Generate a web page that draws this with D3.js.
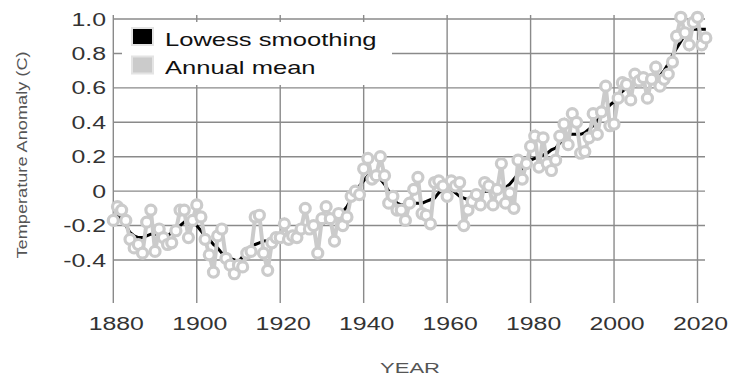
<!DOCTYPE html>
<html lang="en">
<head>
<meta charset="UTF-8">
<title>Temperature Anomaly</title>
<script src="https://d3js.org/d3.v7.min.js"></script>
<style>
  body { margin: 0; background: #fff; }
  text { font-family: "Liberation Sans", Arial, Helvetica, sans-serif; }
</style>
</head>
<body>
<div id="chart"></div>
<script>
// GISTEMP style annual means
const years = d3.range(1880, 2023);
const annualMean = [
  -0.17, -0.09, -0.11, -0.17, -0.28, -0.33, -0.31, -0.36, -0.18, -0.11,
  -0.35, -0.22, -0.27, -0.31, -0.30, -0.23, -0.11, -0.11, -0.27, -0.17,
  -0.08, -0.15, -0.28, -0.37, -0.47, -0.26, -0.22, -0.39, -0.43, -0.48,
  -0.43, -0.44, -0.36, -0.35, -0.15, -0.14, -0.36, -0.46, -0.30, -0.27,
  -0.27, -0.19, -0.28, -0.26, -0.27, -0.22, -0.10, -0.22, -0.20, -0.36,
  -0.16, -0.09, -0.16, -0.29, -0.13, -0.20, -0.15, -0.03, 0.00, -0.02,
  0.13, 0.19, 0.07, 0.09, 0.20, 0.09, -0.07, -0.03, -0.11, -0.11,
  -0.17, -0.07, 0.01, 0.08, -0.13, -0.14, -0.19, 0.05, 0.06, 0.03,
  -0.03, 0.06, 0.03, 0.05, -0.20, -0.11, -0.06, -0.02, -0.08, 0.05,
  0.03, -0.08, 0.01, 0.16, -0.07, -0.01, -0.10, 0.18, 0.07, 0.16,
  0.26, 0.32, 0.14, 0.31, 0.16, 0.12, 0.18, 0.32, 0.39, 0.27,
  0.45, 0.40, 0.22, 0.23, 0.31, 0.45, 0.33, 0.46, 0.61, 0.38,
  0.39, 0.54, 0.63, 0.62, 0.53, 0.68, 0.64, 0.66, 0.54, 0.65,
  0.72, 0.61, 0.65, 0.68, 0.75, 0.90, 1.01, 0.92, 0.85, 0.98,
  1.01, 0.85, 0.89
];
const lowess = [
  -0.10, -0.13, -0.17, -0.20, -0.24, -0.26, -0.27, -0.27, -0.26, -0.25,
  -0.25, -0.25, -0.26, -0.26, -0.24, -0.22, -0.20, -0.18, -0.16, -0.17,
  -0.20, -0.23, -0.26, -0.28, -0.31, -0.33, -0.36, -0.37, -0.39, -0.40,
  -0.41, -0.38, -0.35, -0.32, -0.31, -0.30, -0.29, -0.29, -0.29, -0.29,
  -0.27, -0.26, -0.25, -0.24, -0.23, -0.22, -0.21, -0.20, -0.19, -0.19,
  -0.19, -0.18, -0.17, -0.16, -0.14, -0.12, -0.09, -0.05, -0.01, 0.03,
  0.06, 0.09, 0.10, 0.10, 0.07, 0.04, 0.00, -0.04, -0.07, -0.08,
  -0.08, -0.07, -0.07, -0.07, -0.07, -0.06, -0.05, -0.04, -0.01, 0.01,
  0.03, 0.01, -0.01, -0.03, -0.04, -0.05, -0.04, -0.02, -0.01, 0.00,
  0.00, 0.00, 0.00, 0.01, 0.02, 0.04, 0.07, 0.10, 0.13, 0.16,
  0.18, 0.19, 0.20, 0.21, 0.22, 0.24, 0.25, 0.28, 0.31, 0.33,
  0.33, 0.33, 0.33, 0.34, 0.36, 0.38, 0.41, 0.44, 0.47, 0.50,
  0.52, 0.55, 0.58, 0.60, 0.61, 0.62, 0.63, 0.64, 0.64, 0.65,
  0.66, 0.67, 0.70, 0.74, 0.79, 0.83, 0.87, 0.91, 0.93, 0.94,
  0.94, 0.94, 0.94
];
const xTicks = [1880, 1900, 1920, 1940, 1960, 1980, 2000, 2020];
const yTicks = [1.0, 0.8, 0.6, 0.4, 0.2, 0, -0.2, -0.4];
const yTickLabels = ["1.0", "0.8", "0.6", "0.4", "0.2", "0", "-0.2", "-0.4"];
const legendItems = ["Lowess smoothing", "Annual mean"];

const width = 734, height = 376;
const stretch = 1.42; // the lettering in the picture is wide

const svg = d3.select("#chart").append("svg")
    .attr("width", width)
    .attr("height", height);

const x = d3.scaleLinear().domain([1880, 2020]).range([113.3, 697.5]);
const y = d3.scaleLinear().domain([-0.4, 1.0]).range([260, 19]);

const gridColor = "#8a8a8a";

// vertical grid lines
svg.append("g").selectAll("line")
    .data(xTicks)
    .join("line")
    .attr("x1", d => x(d)).attr("x2", d => x(d))
    .attr("y1", 15).attr("y2", 303)
    .attr("stroke", gridColor).attr("stroke-width", 1.4);

// horizontal grid lines
svg.append("g").selectAll("line")
    .data(yTicks)
    .join("line")
    .attr("x1", x(1880)).attr("x2", 705)
    .attr("y1", d => y(d)).attr("y2", d => y(d))
    .attr("stroke", gridColor).attr("stroke-width", 1.4);

// y tick labels
svg.append("g").selectAll("text")
    .data(yTicks)
    .join("text")
    .attr("transform", d => `translate(106,${y(d) + 6.5}) scale(${stretch},1)`)
    .attr("text-anchor", "end")
    .attr("font-size", 17.5)
    .attr("fill", "#333")
    .text((d, i) => yTickLabels[i]);

// x tick labels
svg.append("g").selectAll("text")
    .data(xTicks)
    .join("text")
    .attr("transform", d => `translate(${x(d) + 3},330) scale(${stretch},1)`)
    .attr("text-anchor", "middle")
    .attr("font-size", 17.5)
    .attr("fill", "#333")
    .text(d => d);

// axis titles
svg.append("text")
    .attr("transform", `translate(410,373) scale(${stretch},1)`)
    .attr("text-anchor", "middle")
    .attr("font-size", 15.5)
    .attr("fill", "#555")
    .text("YEAR");

svg.append("text")
    .attr("transform", `translate(27,155) rotate(-90) scale(1.3,1)`)
    .attr("text-anchor", "middle")
    .attr("font-size", 14)
    .attr("fill", "#555")
    .text("Temperature Anomaly (C)");

// lowess curve under the annual markers
const line = d3.line()
    .x((d, i) => x(years[i]))
    .y(d => y(d));

svg.append("path")
    .datum(lowess)
    .attr("d", line)
    .attr("fill", "none")
    .attr("stroke", "#000")
    .attr("stroke-width", 3);

svg.append("path")
    .datum(annualMean)
    .attr("d", line)
    .attr("fill", "none")
    .attr("stroke", "#cbcbcb")
    .attr("stroke-width", 4);

svg.append("g").selectAll("circle")
    .data(annualMean)
    .join("circle")
    .attr("cx", (d, i) => x(years[i]))
    .attr("cy", d => y(d))
    .attr("r", 5)
    .attr("fill", "#fff")
    .attr("stroke", "#cbcbcb")
    .attr("stroke-width", 3.2);

// legend
const legend = svg.append("g");
legend.append("rect")
    .attr("x", 122).attr("y", 22)
    .attr("width", 270).attr("height", 63)
    .attr("fill", "#fff");

legend.selectAll("rect.swatch")
    .data(legendItems)
    .join("rect")
    .attr("class", "swatch")
    .attr("x", 132).attr("y", (d, i) => 28 + i * 28.5)
    .attr("width", 21).attr("height", 17)
    .attr("fill", (d, i) => i === 0 ? "#000" : "#cbcbcb")
    .attr("stroke", "#e4e4e4")
    .attr("stroke-width", 2);

legend.selectAll("text")
    .data(legendItems)
    .join("text")
    .attr("transform", (d, i) => `translate(165,${45.5 + i * 28.5}) scale(${stretch},1)`)
    .attr("font-size", 18)
    .attr("fill", "#111")
    .text(d => d);
</script>
</body>
</html>
